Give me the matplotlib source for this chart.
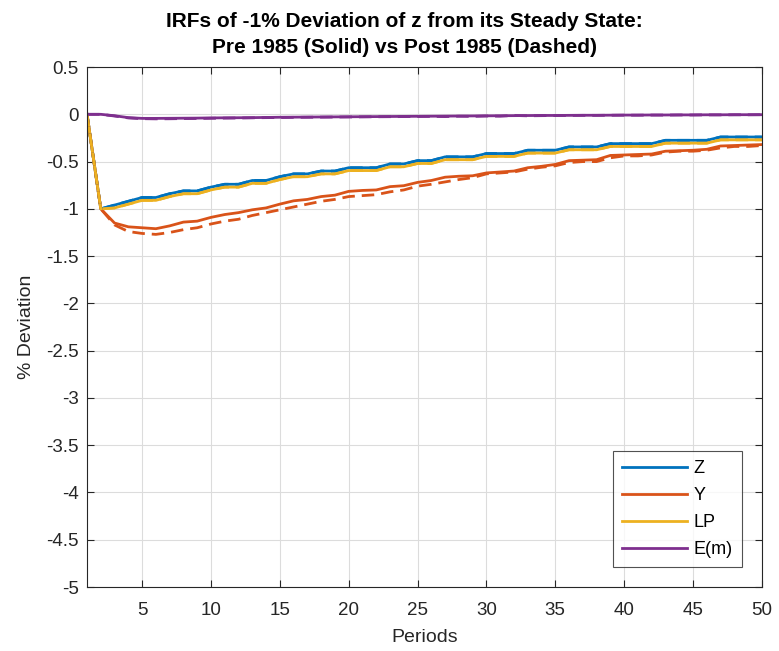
import matplotlib.pyplot as plt
import numpy as np

periods = np.arange(1, 51)

# pre 1985 (solid)
z_pre = [0, -1.0, -0.96, -0.92, -0.88, -0.88, -0.84, -0.81, -0.81, -0.77,
         -0.74, -0.74, -0.70, -0.70, -0.66, -0.63, -0.63, -0.60, -0.60, -0.565,
         -0.565, -0.565, -0.525, -0.525, -0.49, -0.49, -0.45, -0.45, -0.45, -0.415,
         -0.415, -0.415, -0.38, -0.38, -0.38, -0.345, -0.345, -0.345, -0.31, -0.31,
         -0.31, -0.31, -0.275, -0.275, -0.275, -0.275, -0.24, -0.24, -0.24, -0.24]
y_pre = [0, -1.0, -1.15, -1.19, -1.20, -1.21, -1.18, -1.14, -1.13, -1.09,
         -1.06, -1.04, -1.01, -0.99, -0.95, -0.915, -0.90, -0.87, -0.855, -0.815,
         -0.805, -0.80, -0.765, -0.755, -0.72, -0.70, -0.665, -0.655, -0.65, -0.62,
         -0.61, -0.60, -0.565, -0.55, -0.53, -0.49, -0.485, -0.48, -0.435, -0.43,
         -0.425, -0.42, -0.39, -0.385, -0.38, -0.37, -0.335, -0.33, -0.325, -0.32]
lp_pre = [0, -1.0, -0.99, -0.95, -0.91, -0.91, -0.87, -0.84, -0.84, -0.80,
          -0.77, -0.77, -0.73, -0.73, -0.69, -0.66, -0.66, -0.63, -0.63, -0.595,
          -0.595, -0.595, -0.555, -0.555, -0.52, -0.52, -0.48, -0.48, -0.48, -0.445,
          -0.445, -0.445, -0.41, -0.41, -0.41, -0.375, -0.375, -0.375, -0.34, -0.34,
          -0.34, -0.34, -0.305, -0.305, -0.305, -0.305, -0.27, -0.27, -0.27, -0.27]
em_pre = [0, 0, -0.015, -0.035, -0.043, -0.043, -0.042, -0.041, -0.040, -0.038,
          -0.037, -0.036, -0.035, -0.033, -0.031, -0.030, -0.029, -0.028, -0.027, -0.026,
          -0.025, -0.024, -0.023, -0.022, -0.021, -0.020, -0.019, -0.018, -0.017, -0.016,
          -0.015, -0.014, -0.013, -0.012, -0.012, -0.011, -0.010, -0.010, -0.009, -0.008,
          -0.008, -0.007, -0.007, -0.006, -0.006, -0.005, -0.005, -0.004, -0.004, -0.004]

# post 1985 (dashed)
z_post = z_pre
lp_post = lp_pre
y_post = [0, -1.0, -1.17, -1.24, -1.26, -1.27, -1.25, -1.22, -1.20, -1.16,
          -1.13, -1.11, -1.07, -1.04, -1.01, -0.98, -0.95, -0.92, -0.90, -0.87,
          -0.86, -0.85, -0.82, -0.80, -0.76, -0.74, -0.715, -0.69, -0.67, -0.63,
          -0.62, -0.61, -0.58, -0.56, -0.545, -0.51, -0.50, -0.50, -0.46, -0.44,
          -0.44, -0.43, -0.40, -0.39, -0.39, -0.38, -0.355, -0.34, -0.34, -0.33]
em_post = [0, 0, -0.018, -0.038, -0.046, -0.048, -0.047, -0.045, -0.044, -0.042,
           -0.040, -0.039, -0.037, -0.035, -0.034, -0.032, -0.031, -0.030, -0.029, -0.028,
           -0.027, -0.026, -0.025, -0.024, -0.023, -0.022, -0.024, -0.020, -0.022, -0.018,
           -0.020, -0.012, -0.016, -0.014, -0.013, -0.012, -0.011, -0.011, -0.010, -0.009,
           -0.009, -0.008, -0.008, -0.007, -0.007, -0.006, -0.006, -0.005, -0.005, -0.004]

labels = ["Z", "Y", "LP", "E(m)"]
colors = ["#0072BD", "#D95319", "#EDB120", "#7E2F8E"]

plt.rcParams['font.family'] = ['Liberation Sans', 'DejaVu Sans']

fig = plt.figure(figsize=(7.79, 6.51), dpi=100)
ax = fig.add_axes([0.1117, 0.0983, 0.8663, 0.7987])

pre = [z_pre, y_pre, lp_pre, em_pre]
post = [z_post, y_post, lp_post, em_post]
for s, lab, c in zip(pre, labels, colors):
    ax.plot(periods, s, color=c, linewidth=2.0, label=lab)
for s, c in zip(post, colors):
    ax.plot(periods, s, color=c, linewidth=2.0, linestyle=(0, (4.5, 2.5)))

ax.set_xlim(1, 50)
ax.set_ylim(-5, 0.5)
ax.set_xticks(np.arange(5, 51, 5))
ax.set_yticks(np.arange(-5, 0.51, 0.5))
ax.set_yticklabels([f"{v:g}" for v in np.arange(-5, 0.51, 0.5)])
ax.tick_params(direction='in', top=True, right=True, labelsize=13.5,
               colors='#262626', length=5, width=0.8)
ax.tick_params(axis='x', pad=11)
ax.tick_params(axis='y', pad=6)
for sp in ax.spines.values():
    sp.set_color('#262626')
    sp.set_linewidth(0.8)
ax.grid(True, color='#dcdcdc', linewidth=0.8)
ax.set_axisbelow(True)

ax.set_xlabel("Periods", fontsize=14, color='#262626', labelpad=7)
ax.set_ylabel("% Deviation", fontsize=14, color='#262626', labelpad=8)
ax.set_title("IRFs of -1% Deviation of z from its Steady State:\nPre 1985 (Solid) vs Post 1985 (Dashed)",
             fontsize=15, fontweight='bold', linespacing=1.45, pad=10, x=0.47)

leg = ax.legend(loc='lower right', fontsize=13, handlelength=3.6, handletextpad=0.4,
                frameon=True, fancybox=False, edgecolor='#262626',
                borderaxespad=1.1, labelspacing=0.55, borderpad=0.5)
leg.get_frame().set_linewidth(0.8)

fig.savefig("out.png", dpi=100)
